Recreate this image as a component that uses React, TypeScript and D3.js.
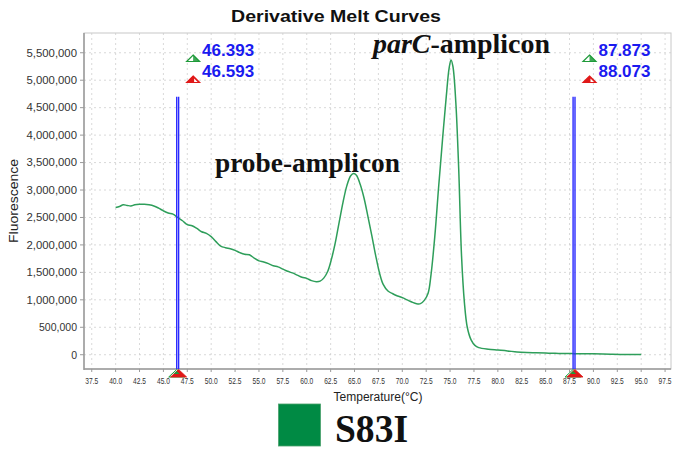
import React from "react";
import * as d3 from "d3";

// Melt derivative curve (temperature °C, fluorescence)
const temps = [
  40.0, 40.4, 40.8, 41.2, 41.6, 42.0, 42.5, 43.0, 43.5, 44.0, 44.5, 45.0, 45.5, 46.0, 46.5,
  47.0, 47.5, 48.0, 48.5, 49.0, 49.5, 50.0, 50.5, 51.0, 51.5, 52.0, 52.5, 53.0, 53.5, 54.0,
  54.5, 55.0, 55.5, 56.0, 56.5, 57.0, 57.5, 58.0, 58.5, 59.0, 59.5, 60.0, 60.5, 61.0, 61.4,
  61.8, 62.2, 62.6, 63.0, 63.4, 63.8, 64.2, 64.6, 64.9, 65.2, 65.6, 66.0, 66.4, 66.8, 67.2,
  67.6, 68.0, 68.5, 69.0, 69.5, 70.0, 70.5, 71.0, 71.5, 71.9, 72.3, 72.7, 73.0, 73.4, 73.8,
  74.2, 74.6, 74.9, 75.1, 75.3, 75.6, 75.9, 76.2, 76.5, 76.8, 77.2, 77.6, 78.0, 79.0, 80.0,
  81.0, 82.0, 83.0, 84.0, 85.0, 86.0, 87.0, 88.0, 89.0, 90.0, 91.0, 92.0, 93.0, 94.0, 95.0,
];
const fluorescence = [
  2680000, 2700000, 2730000, 2720000, 2710000, 2730000, 2740000, 2740000, 2730000, 2710000, 2670000, 2620000, 2580000, 2560000, 2500000,
  2440000, 2370000, 2350000, 2300000, 2240000, 2210000, 2150000, 2060000, 1980000, 1950000, 1930000, 1900000, 1860000, 1830000, 1820000,
  1760000, 1710000, 1690000, 1660000, 1620000, 1600000, 1560000, 1520000, 1490000, 1450000, 1410000, 1390000, 1350000, 1330000, 1340000,
  1400000, 1520000, 1750000, 2050000, 2420000, 2780000, 3080000, 3260000, 3300000, 3270000, 3100000, 2850000, 2520000, 2180000, 1820000,
  1500000, 1280000, 1160000, 1110000, 1070000, 1040000, 1000000, 960000, 930000, 930000, 990000, 1120000, 1450000, 2150000, 3050000,
  3900000, 4700000, 5220000, 5370000, 5250000, 4600000, 3400000, 1800000, 950000, 500000, 270000, 170000, 130000, 100000, 85000,
  70000, 50000, 40000, 35000, 30000, 25000, 22000, 20000, 18000, 16000, 13000, 8000, 6000, 5000, 3000,
];

const xTicks = [37.5, 40, 42.5, 45, 47.5, 50, 52.5, 55, 57.5, 60, 62.5, 65, 67.5, 70, 72.5, 75, 77.5, 80, 82.5, 85, 87.5, 90, 92.5, 95, 97.5];
const yTicks = [0, 500000, 1000000, 1500000, 2000000, 2500000, 3000000, 3500000, 4000000, 4500000, 5000000, 5500000];

// Melt-region cursors: [start marker, end marker] for each region
const cursorTemps = [46.393, 46.593, 87.873, 88.073];
const cursorHeight = 4700000;

const title = "Derivative Melt Curves";
const xLabel = "Temperature(\u00B0C)";
const yLabel = "Fluorescence";
const sampleName = "S83I";

const W = 675;
const H = 449;
const plot = { left: 84, right: 671, top: 33, bottom: 369 };

const x = d3.scaleLinear().domain([36.69, 98.12]).range([plot.left, plot.right]);
const y = d3.scaleLinear().domain([-260000, 5860000]).range([plot.bottom, plot.top]);

const curveColor = "#2e9e5a";
const cursorBlue = "#2a2aff";
const labelBlue = "#1a1af0";
const markGreen = "#1f9a3a";
const markRed = "#e01818";

const fmt = d3.format(",");

export default function App() {
  const pts: [number, number][] = temps.map((t, i) => [t, fluorescence[i]]);
  const line = d3
    .line<[number, number]>()
    .x((d) => x(d[0]))
    .y((d) => y(d[1]))
    .curve(d3.curveCatmullRom.alpha(0.5));

  const sans = "'Liberation Sans', Arial, sans-serif";
  const serif = "'Liberation Serif', 'Times New Roman', serif";

  // group cursors into regions (pairs)
  const regions = [0, 2].map((i) => ({ a: cursorTemps[i], b: cursorTemps[i + 1] }));

  const topTri = (cx: number, apexY: number) =>
    `M${cx},${apexY} L${cx + 6.5},${apexY + 6.5} L${cx - 6.5},${apexY + 6.5} Z`;

  return (
    <svg
      width={W}
      height={H}
      style={{ position: "absolute", left: 0, top: 0, background: "#fff" }}
      fontFamily={sans}
    >
      <rect x={0} y={0} width={W} height={H} fill="#fff" />
      {/* title */}
      <text x={336} y={21.5} textAnchor="middle" fontSize={17} fontWeight="bold" fill="#111"
        textLength={210} lengthAdjust="spacingAndGlyphs">
        {title}
      </text>

      {/* plot background and grid */}
      <rect x={plot.left} y={plot.top} width={plot.right - plot.left} height={plot.bottom - plot.top} fill="#fff" />
      {xTicks.map((t) => (
        <line key={"gx" + t} x1={x(t)} x2={x(t)} y1={plot.top} y2={plot.bottom}
          stroke="#cfcfcf" strokeWidth={0.8} strokeDasharray="2,3" />
      ))}
      {yTicks.map((v) => (
        <line key={"gy" + v} x1={plot.left} x2={plot.right} y1={y(v)} y2={y(v)}
          stroke="#cfcfcf" strokeWidth={0.8} strokeDasharray="2,3" />
      ))}
      <rect x={plot.left} y={plot.top} width={plot.right - plot.left} height={plot.bottom - plot.top}
        fill="none" stroke="#c8c8c8" strokeWidth={1} />
      {/* axes */}
      <line x1={plot.left} x2={plot.left} y1={plot.top} y2={plot.bottom + 1} stroke="#9a9a9a" strokeWidth={1.5} />
      <line x1={plot.left} x2={plot.right} y1={plot.bottom} y2={plot.bottom} stroke="#9a9a9a" strokeWidth={1.5} />

      {/* y ticks */}
      {yTicks.map((v) => (
        <g key={"yt" + v}>
          <line x1={plot.left - 4} x2={plot.left} y1={y(v)} y2={y(v)} stroke="#9a9a9a" />
          <text x={77} y={y(v) + 3.8} textAnchor="end" fontSize={10.5} fill="#333"
            {...(v >= 1000000 ? { textLength: 50.5, lengthAdjust: "spacingAndGlyphs" } : {})}>
            {fmt(v)}
          </text>
        </g>
      ))}
      {/* x ticks (condensed labels) */}
      {xTicks.map((t) => (
        <g key={"xt" + t}>
          <line x1={x(t)} x2={x(t)} y1={plot.bottom} y2={plot.bottom + 3} stroke="#9a9a9a" />
          <text transform={`translate(${x(t)},383.5) scale(0.7,1)`} textAnchor="middle" fontSize={9.5} fill="#333">
            {t.toFixed(1)}
          </text>
        </g>
      ))}

      {/* axis labels */}
      <text x={378} y={400.5} textAnchor="middle" fontSize={12} fill="#222">{xLabel}</text>
      <text transform={`translate(17.5,${(plot.top + plot.bottom) / 2}) rotate(-90)`} textAnchor="middle"
        fontSize={12.5} fill="#222" textLength={84} lengthAdjust="spacingAndGlyphs">
        {yLabel}
      </text>

      {/* melt curve */}
      <path d={line(pts) ?? ""} fill="none" stroke={curveColor} strokeWidth={1.5} />

      {/* cursors */}
      {cursorTemps.map((t, i) => (
        <line key={"cl" + i} x1={x(t)} x2={x(t)} y1={y(cursorHeight)} y2={plot.bottom}
          stroke={cursorBlue} strokeWidth={1.4} />
      ))}
      {regions.map((r, i) => {
        const mx = x(r.b) + 14.5;
        return (
          <g key={"rg" + i}>
            {/* start marker */}
            <path d={topTri(mx, 55)} fill="#fff" stroke={markGreen} strokeWidth={1.2} />
            <path d={`M${mx},${55} L${mx + 6.5},${61.5} L${mx},${61.5} Z`} fill={markGreen} opacity={0.85} />
            <text x={mx + 9} y={55.5} fontSize={16.5} fontWeight="bold" fill={labelBlue}
              textLength={52} lengthAdjust="spacingAndGlyphs">
              {r.a.toFixed(3)}
            </text>
            {/* end marker */}
            <path d={topTri(mx, 76)} fill={markRed} stroke={markRed} strokeWidth={1.2} />
            <path d={`M${mx + 1},${78.5} L${mx + 4.5},${82} L${mx + 1},${82} Z`} fill="#fff" />
            <text x={mx + 9} y={76.5} fontSize={16.5} fontWeight="bold" fill={labelBlue}
              textLength={52} lengthAdjust="spacingAndGlyphs">
              {r.b.toFixed(3)}
            </text>
            {/* axis markers */}
            <path d={`M${x(r.a)},${369.5} L${x(r.a) + 8},${377} L${x(r.a) - 8},${377} Z`}
              fill="#fff" stroke={markGreen} strokeWidth={1} />
            <path d={`M${x(r.b)},${369.5} L${x(r.b) + 8},${377} L${x(r.b) - 8},${377} Z`}
              fill={markRed} stroke={markRed} strokeWidth={0.8} />
            <path d={`M${x(r.a)},${371} L${x(r.a) + 3},${374} L${x(r.a) - 3},${374} Z`} fill={markGreen} />
          </g>
        );
      })}

      {/* peak annotations */}
      <text x={215} y={171.5} fontFamily={serif} fontWeight="bold" fontSize={27} fill="#111"
        textLength={185} lengthAdjust="spacingAndGlyphs">
        probe-amplicon
      </text>
      <text x={373} y={52.5} fontFamily={serif} fontWeight="bold" fontSize={27.5} fill="#111"
        textLength={177} lengthAdjust="spacingAndGlyphs">
        <tspan fontStyle="italic">parC</tspan>
        <tspan>-amplicon</tspan>
      </text>

      {/* sample legend */}
      <rect x={278.5} y={404} width={42} height={42} fill="#008a44" stroke="#4aa06c" strokeWidth={0.8} />
      <text x={335} y={441.5} fontFamily={serif} fontWeight="bold" fontSize={41} fill="#111"
        textLength={73} lengthAdjust="spacingAndGlyphs">
        {sampleName}
      </text>
    </svg>
  );
}
